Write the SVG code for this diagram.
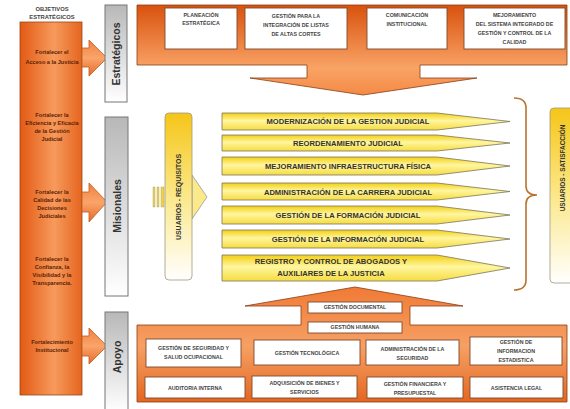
<svg xmlns="http://www.w3.org/2000/svg" width="570" height="409" viewBox="0 0 570 409">
<style>
text{font-family:"Liberation Sans",Arial,sans-serif;font-weight:bold;text-anchor:middle}
.bx{fill:#fff;stroke:#7d4b2e;stroke-width:0.9}
.t{font-size:5.3px;fill:#444}
.ct{font-size:5.6px;fill:#5a2204}
.vl{font-size:10.5px;fill:#333}
.at{font-size:7.6px;fill:#333}
.ya{fill:url(#gYel);stroke:#7a7560;stroke-width:0.8}
.ga{fill:url(#gGray);stroke:#777;stroke-width:1}
.oa{fill:url(#gArr);stroke:#c25a1a;stroke-width:0.8}
</style>
<defs>
<linearGradient id="gCol" x1="0" y1="0" x2="1" y2="0">
<stop offset="0" stop-color="#e25a14"/><stop offset="0.55" stop-color="#f79a5c"/><stop offset="1" stop-color="#e5651f"/>
</linearGradient>
<linearGradient id="gArr" x1="0" y1="0" x2="0" y2="1">
<stop offset="0" stop-color="#f08040"/><stop offset="0.5" stop-color="#f9a56a"/><stop offset="1" stop-color="#e8682a"/>
</linearGradient>
<linearGradient id="gTop" gradientUnits="userSpaceOnUse" x1="0" y1="5" x2="0" y2="95">
<stop offset="0" stop-color="#d9520e"/><stop offset="0.7" stop-color="#f9a366"/><stop offset="1" stop-color="#f48a45"/>
</linearGradient>
<linearGradient id="gBot" gradientUnits="userSpaceOnUse" x1="0" y1="287" x2="0" y2="405">
<stop offset="0" stop-color="#f07a35"/><stop offset="0.5" stop-color="#f6a064"/><stop offset="1" stop-color="#e3631d"/>
</linearGradient>
<linearGradient id="gGray" x1="0" y1="0" x2="0" y2="1">
<stop offset="0" stop-color="#b8b8b8"/><stop offset="1" stop-color="#ffffff"/>
</linearGradient>
<linearGradient id="gYel" x1="0" y1="0" x2="0" y2="1">
<stop offset="0" stop-color="#f3cf10"/><stop offset="0.45" stop-color="#fff6a0"/><stop offset="1" stop-color="#f6dc40"/>
</linearGradient>
<linearGradient id="gUser" x1="0" y1="0" x2="0" y2="1">
<stop offset="0" stop-color="#f5c518"/><stop offset="0.5" stop-color="#fbe88a"/><stop offset="1" stop-color="#ffffff"/>
</linearGradient>
</defs>

<g id="objetivos">
<text class="t" x="52" y="11" style="font-size:5.8px">OBJETIVOS</text>
<text class="t" x="52" y="19" style="font-size:5.8px">ESTRATÉGICOS</text>
<rect x="20" y="22" width="62" height="373" fill="url(#gCol)" stroke="#9a4614" stroke-width="0.8"/>
<text class="ct" x="52" y="54">Fortalecer el</text>
<text class="ct" x="52" y="64">Acceso a la Justicia</text>
<text class="ct" x="52" y="117">Fortalecer la</text>
<text class="ct" x="52" y="125">Eficiencia y Eficacia</text>
<text class="ct" x="52" y="133">de la Gestión</text>
<text class="ct" x="52" y="141">Judicial</text>
<text class="ct" x="52" y="194">Fortalecer la</text>
<text class="ct" x="52" y="202">Calidad de las</text>
<text class="ct" x="52" y="210">Decisiones</text>
<text class="ct" x="52" y="218">Judiciales</text>
<text class="ct" x="52" y="261">Fortalecer la</text>
<text class="ct" x="52" y="269">Confianza, la</text>
<text class="ct" x="52" y="277">Visibilidad y la</text>
<text class="ct" x="52" y="285">Transparencia.</text>
<text class="ct" x="52" y="344">Fortalecimiento</text>
<text class="ct" x="52" y="352">Institucional</text>
</g>

<g id="connectors">
<path class="oa" d="M82,48 H89 V40 L107,58 L89,76 V67 H82 Z"/>
<path class="oa" d="M82,192 H89 V183 L107,202 L89,222 V212 H82 Z"/>
<path class="oa" d="M82,336 H89 V328 L107,346 L89,364 V356 H82 Z"/>
</g>

<g id="estrategicos-label">
<rect class="ga" x="105" y="5" width="22" height="97"/>
<text class="vl" transform="translate(120,54) rotate(-90)">Estratégicos</text>
</g>
<g id="misionales-label">
<rect class="ga" x="105" y="117" width="23" height="179"/>
<text class="vl" transform="translate(120.5,206) rotate(-90)">Misionales</text>
</g>
<g id="apoyo-label">
<rect class="ga" x="105" y="312" width="23" height="100"/>
<text class="vl" transform="translate(120.5,357) rotate(-90)">Apoyo</text>
</g>

<g id="estrategicos">
<path d="M137,5 H567 V65 H420 V78 H477 L363,95 L250,78 H307 V65 H137 Z" fill="url(#gTop)" stroke="#8a3c10" stroke-width="0.8"/>
<rect class="bx" x="165" y="8" width="72" height="41"/>
<text class="t" x="201" y="17">PLANEACIÓN</text>
<text class="t" x="201" y="25">ESTRATÉGICA</text>
<rect class="bx" x="245" y="8" width="102" height="41"/>
<text class="t" x="296" y="17.5">GESTIÓN PARA LA</text>
<text class="t" x="296" y="26.5">INTEGRACIÓN DE LISTAS</text>
<text class="t" x="296" y="35.5">DE ALTAS CORTES</text>
<rect class="bx" x="367" y="8" width="80" height="41"/>
<text class="t" x="407" y="17">COMUNICACIÓN</text>
<text class="t" x="407" y="26">INSTITUCIONAL</text>
<rect class="bx" x="464" y="8" width="101" height="41"/>
<text class="t" x="514.5" y="17">MEJORAMIENTO</text>
<text class="t" x="514.5" y="26">DEL SISTEMA INTEGRADO DE</text>
<text class="t" x="514.5" y="35">GESTIÓN Y CONTROL DE LA</text>
<text class="t" x="514.5" y="44">CALIDAD</text>
</g>

<g id="usuarios-requisitos">
<rect x="153" y="187" width="2" height="20" fill="#f3d23a" stroke="#999" stroke-width="0.4"/>
<rect x="157" y="187" width="2" height="20" fill="#f3d23a" stroke="#999" stroke-width="0.4"/>
<rect x="161" y="187" width="3" height="20" fill="#f3d23a" stroke="#999" stroke-width="0.4"/>
<path d="M192,175 L207,197 L192,219 Z" fill="#fbe98a" stroke="#999" stroke-width="0.8"/>
<rect x="165" y="113" width="27" height="167" rx="4" fill="url(#gUser)" stroke="#a09a80" stroke-width="0.8"/>
<text class="at" style="font-size:7px" transform="translate(180.5,197) rotate(-90)">USUARIOS - REQUISITOS</text>
</g>

<g id="misionales">
<path class="ya" d="M222,113 H437 L510,121.5 L437,130 H222 Z"/>
<text class="at" x="348" y="124.2">MODERNIZACIÓN DE LA GESTION JUDICIAL</text>
<path class="ya" d="M222,135 H437 L510,143 L437,151 H222 Z"/>
<text class="at" x="348" y="145.8">REORDENAMIENTO JUDICIAL</text>
<path class="ya" d="M222,157 H437 L510,166 L437,175 H222 Z"/>
<text class="at" x="348" y="168.8">MEJORAMIENTO INFRAESTRUCTURA FÍSICA</text>
<path class="ya" d="M222,183 H437 L510,191.5 L437,200 H222 Z"/>
<text class="at" x="348" y="194.5">ADMINISTRACIÓN DE LA CARRERA JUDICIAL</text>
<path class="ya" d="M222,206 H437 L510,215 L437,224 H222 Z"/>
<text class="at" x="348" y="217.8">GESTIÓN DE LA FORMACIÓN JUDICIAL</text>
<path class="ya" d="M222,230 H437 L510,239 L437,248 H222 Z"/>
<text class="at" x="348" y="241.8">GESTIÓN DE LA INFORMACIÓN JUDICIAL</text>
<path class="ya" d="M222,255 H437 L510,268 L437,281 H222 Z"/>
<text class="at" x="331" y="263.7">REGISTRO Y CONTROL DE ABOGADOS Y</text>
<text class="at" x="331" y="275.7">AUXILIARES DE LA JUSTICIA</text>
</g>

<g id="brace">
<path d="M514,98 Q526,98 526,108 V186 Q526,195 537,195 Q526,195 526,204 V280 Q526,290 514,290" fill="none" stroke="#b8742e" stroke-width="1.6"/>
</g>

<g id="usuarios-satisfaccion">
<rect x="550" y="108" width="25" height="175" rx="4" fill="url(#gUser)" stroke="#a09a80" stroke-width="0.8"/>
<text class="at" style="font-size:6.4px" transform="translate(565,168) rotate(-90)">USUARIOS - SATISFACCIÓN</text>
</g>

<g id="apoyo">
<path d="M137,325 H301 V306 H245 L355,287 L463,306 H410 V325 H567 V402 H137 Z" fill="url(#gBot)" stroke="#8a3c10" stroke-width="0.8"/>
<rect class="bx" x="308" y="302" width="94" height="11"/>
<text class="t" x="355" y="309.3">GESTIÓN DOCUMENTAL</text>
<rect class="bx" x="308" y="322" width="94" height="11"/>
<text class="t" x="355" y="329.3">GESTIÓN HUMANA</text>
<rect class="bx" x="146" y="339" width="95" height="28"/>
<text class="t" x="193.5" y="350">GESTIÓN DE SEGURIDAD Y</text>
<text class="t" x="193.5" y="359">SALUD OCUPACIONAL</text>
<rect class="bx" x="254" y="340" width="106" height="25"/>
<text class="t" x="307" y="354.8">GESTIÓN TECNOLÓGICA</text>
<rect class="bx" x="366" y="340" width="93" height="25"/>
<text class="t" x="412.5" y="351">ADMINISTRACIÓN DE LA</text>
<text class="t" x="412.5" y="360">SEGURIDAD</text>
<rect class="bx" x="470" y="337" width="92" height="28"/>
<text class="t" x="516" y="343.8">GESTIÓN DE</text>
<text class="t" x="516" y="352.8">INFORMACION</text>
<text class="t" x="516" y="361.8">ESTADISTICA</text>
<rect class="bx" x="145" y="377" width="100" height="21"/>
<text class="t" x="195" y="389.8">AUDITORIA INTERNA</text>
<rect class="bx" x="252" y="376" width="105" height="22"/>
<text class="t" x="304.5" y="385">ADQUISICIÓN DE BIENES Y</text>
<text class="t" x="304.5" y="394">SERVICIOS</text>
<rect class="bx" x="367" y="377" width="96" height="21"/>
<text class="t" x="415" y="385.8">GESTIÓN FINANCIERA Y</text>
<text class="t" x="415" y="394.8">PRESUPUESTAL</text>
<rect class="bx" x="470" y="377" width="93" height="21"/>
<text class="t" x="516.5" y="389.8">ASISTENCIA LEGAL</text>
</g>
</svg>
